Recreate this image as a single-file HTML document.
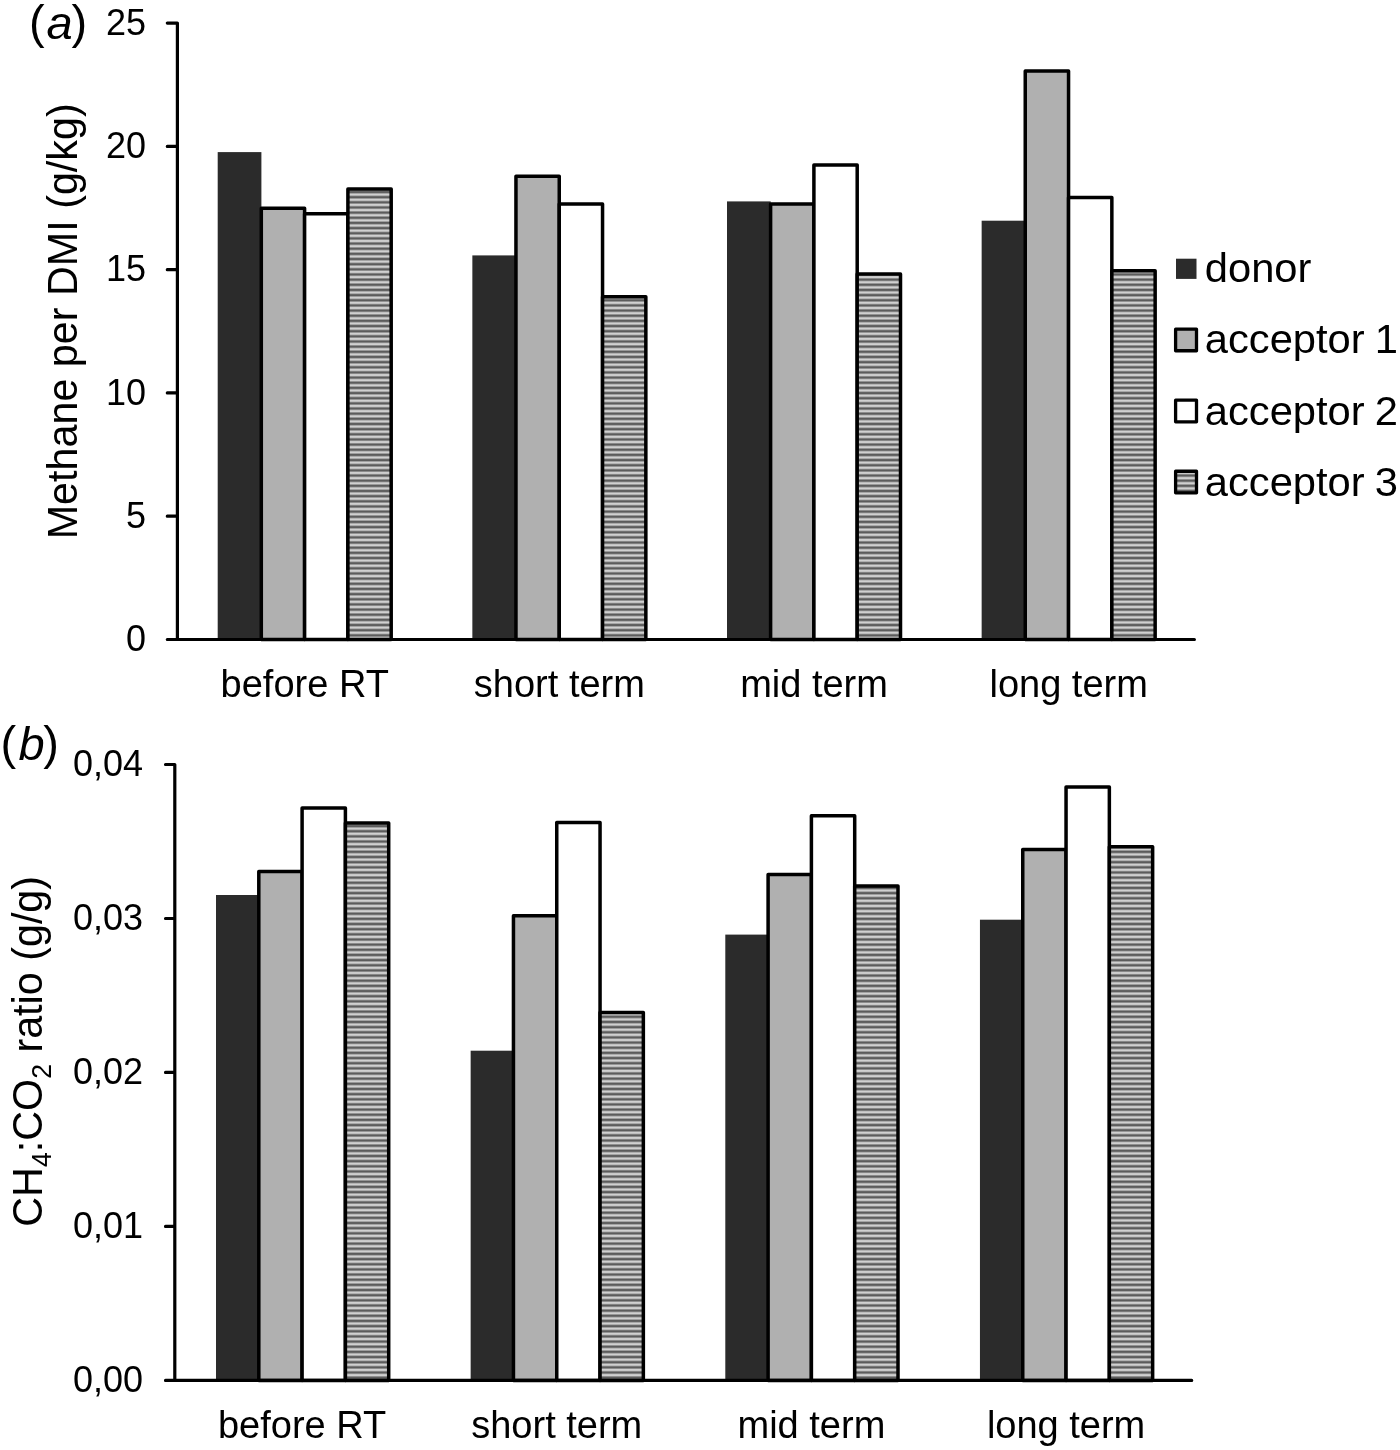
<!DOCTYPE html>
<html lang="en">
<head>
<meta charset="utf-8">
<title>Methane per DMI and CH4:CO2 ratio</title>
<style>
html,body{margin:0;padding:0;background:#fff;}
svg{display:block;}
text{font-family:"Liberation Sans",sans-serif;fill:#000;}
</style>
</head>
<body>
<svg width="1400" height="1450" viewBox="0 0 1400 1450">
<defs>
<linearGradient id="hg" x1="0" y1="0" x2="0" y2="1">
<stop offset="0" stop-color="#5c5c5c"/>
<stop offset="0.14" stop-color="#5c5c5c"/>
<stop offset="0.36" stop-color="#d0d0d0"/>
<stop offset="0.64" stop-color="#d0d0d0"/>
<stop offset="0.86" stop-color="#5c5c5c"/>
<stop offset="1" stop-color="#5c5c5c"/>
</linearGradient>
<pattern id="hatch" patternUnits="userSpaceOnUse" x="0" y="1.27" width="60" height="5.155">
<rect x="0" y="0" width="60" height="5.155" fill="url(#hg)"/>
</pattern>
</defs>
<rect x="0" y="0" width="1400" height="1450" fill="#fff"/>
<!-- panel a -->
<text x="29.1" y="38.4" font-size="47">(<tspan font-style="italic" dx="1.8" dy="0.9">a</tspan><tspan dx="-1.1" dy="-0.9">)</tspan></text>
<text transform="translate(77.1,539.3) scale(1.035,1) rotate(-90)" font-size="41.3">Methane per DMI (g/kg)</text>
<rect x="217.7" y="152.1" width="43.7" height="487.4" fill="#2b2b2b"/>
<rect x="261.3" y="208.2" width="43.3" height="431.3" fill="#b0b0b0" stroke="#000" stroke-width="3.5" stroke-linejoin="round"/>
<rect x="304.6" y="213.7" width="43.3" height="425.8" fill="#ffffff" stroke="#000" stroke-width="3.5" stroke-linejoin="round"/>
<rect x="347.9" y="188.9" width="43.3" height="450.6" fill="url(#hatch)" stroke="#000" stroke-width="3.5" stroke-linejoin="round"/>
<rect x="472.35" y="255.4" width="43.7" height="384.1" fill="#2b2b2b"/>
<rect x="515.95" y="176.2" width="43.3" height="463.3" fill="#b0b0b0" stroke="#000" stroke-width="3.5" stroke-linejoin="round"/>
<rect x="559.25" y="203.9" width="43.3" height="435.6" fill="#ffffff" stroke="#000" stroke-width="3.5" stroke-linejoin="round"/>
<rect x="602.55" y="296.8" width="43.3" height="342.7" fill="url(#hatch)" stroke="#000" stroke-width="3.5" stroke-linejoin="round"/>
<rect x="727" y="201.4" width="43.7" height="438.1" fill="#2b2b2b"/>
<rect x="770.6" y="203.9" width="43.3" height="435.6" fill="#b0b0b0" stroke="#000" stroke-width="3.5" stroke-linejoin="round"/>
<rect x="813.9" y="165" width="43.3" height="474.5" fill="#ffffff" stroke="#000" stroke-width="3.5" stroke-linejoin="round"/>
<rect x="857.2" y="273.9" width="43.3" height="365.6" fill="url(#hatch)" stroke="#000" stroke-width="3.5" stroke-linejoin="round"/>
<rect x="981.65" y="220.7" width="43.7" height="418.8" fill="#2b2b2b"/>
<rect x="1025.25" y="71.1" width="43.3" height="568.4" fill="#b0b0b0" stroke="#000" stroke-width="3.5" stroke-linejoin="round"/>
<rect x="1068.55" y="197.5" width="43.3" height="442" fill="#ffffff" stroke="#000" stroke-width="3.5" stroke-linejoin="round"/>
<rect x="1111.85" y="270.75" width="43.3" height="368.75" fill="url(#hatch)" stroke="#000" stroke-width="3.5" stroke-linejoin="round"/>
<path d="M167.3,23.1H177.4V639.5M167.3,146.38H177.4M167.3,269.66H177.4M167.3,392.94H177.4M167.3,516.22H177.4M167.3,639.5H1194.4" fill="none" stroke="#000" stroke-width="3.2" stroke-linecap="round" stroke-linejoin="round"/>
<text x="146" y="34.7" font-size="36" text-anchor="end">25</text>
<text x="146" y="157.98" font-size="36" text-anchor="end">20</text>
<text x="146" y="281.26" font-size="36" text-anchor="end">15</text>
<text x="146" y="404.54" font-size="36" text-anchor="end">10</text>
<text x="146" y="527.82" font-size="36" text-anchor="end">5</text>
<text x="146" y="651.1" font-size="36" text-anchor="end">0</text>
<text x="304.73" y="697.2" font-size="38" text-anchor="middle">before RT</text>
<text x="559.38" y="697.2" font-size="38" text-anchor="middle">short term</text>
<text x="814.03" y="697.2" font-size="38" text-anchor="middle">mid term</text>
<text x="1068.68" y="697.2" font-size="38" text-anchor="middle">long term</text>
<rect x="1176" y="258.7" width="20.5" height="20.2" fill="#2b2b2b"/>
<text transform="translate(1204.8,282.4) scale(1.027,1)" font-size="40.6">donor</text>
<rect x="1175.6" y="329.15" width="20.9" height="21.6" fill="#b0b0b0" stroke="#000" stroke-width="3.3" stroke-linejoin="round"/>
<text transform="translate(1204.8,353.45) scale(1.027,1)" font-size="40.6">acceptor <tspan dx="-1.6">1</tspan></text>
<rect x="1175.6" y="400.2" width="20.9" height="21.6" fill="#ffffff" stroke="#000" stroke-width="3.3" stroke-linejoin="round"/>
<text transform="translate(1204.8,424.5) scale(1.027,1)" font-size="40.6">acceptor <tspan dx="-1.6">2</tspan></text>
<rect x="1175.6" y="471.25" width="20.9" height="21.6" fill="url(#hatch)" stroke="#000" stroke-width="3.3" stroke-linejoin="round"/>
<text transform="translate(1204.8,495.55) scale(1.027,1)" font-size="40.6">acceptor <tspan dx="-1.6">3</tspan></text>
<!-- panel b -->
<text x="0.6" y="759" font-size="47">(<tspan font-style="italic" dx="2.3" dy="0.9">b</tspan><tspan dx="-1.4" dy="-0.9">)</tspan></text>
<text transform="translate(41.6,1226.7) scale(1.035,1) rotate(-90)" font-size="41.3">CH<tspan font-size="26.6" dy="9.4">4</tspan><tspan dy="-9.4">:CO</tspan><tspan font-size="26.6" dy="9.4">2</tspan><tspan dy="-9.4"> ratio (g/g)</tspan></text>
<rect x="216" y="895" width="42.9" height="485.4" fill="#2b2b2b"/>
<rect x="258.8" y="871.4" width="43.3" height="509" fill="#b0b0b0" stroke="#000" stroke-width="3.5" stroke-linejoin="round"/>
<rect x="302.1" y="807.9" width="43.3" height="572.5" fill="#ffffff" stroke="#000" stroke-width="3.5" stroke-linejoin="round"/>
<rect x="345.4" y="822.9" width="43.3" height="557.5" fill="url(#hatch)" stroke="#000" stroke-width="3.5" stroke-linejoin="round"/>
<rect x="470.65" y="1050.7" width="42.9" height="329.7" fill="#2b2b2b"/>
<rect x="513.45" y="915.7" width="43.3" height="464.7" fill="#b0b0b0" stroke="#000" stroke-width="3.5" stroke-linejoin="round"/>
<rect x="556.75" y="822.5" width="43.3" height="557.9" fill="#ffffff" stroke="#000" stroke-width="3.5" stroke-linejoin="round"/>
<rect x="600.05" y="1012.5" width="43.3" height="367.9" fill="url(#hatch)" stroke="#000" stroke-width="3.5" stroke-linejoin="round"/>
<rect x="725.3" y="934.6" width="42.9" height="445.8" fill="#2b2b2b"/>
<rect x="768.1" y="874.6" width="43.3" height="505.8" fill="#b0b0b0" stroke="#000" stroke-width="3.5" stroke-linejoin="round"/>
<rect x="811.4" y="815.7" width="43.3" height="564.7" fill="#ffffff" stroke="#000" stroke-width="3.5" stroke-linejoin="round"/>
<rect x="854.7" y="886" width="43.3" height="494.4" fill="url(#hatch)" stroke="#000" stroke-width="3.5" stroke-linejoin="round"/>
<rect x="979.95" y="919.7" width="42.9" height="460.7" fill="#2b2b2b"/>
<rect x="1022.75" y="849.4" width="43.3" height="531" fill="#b0b0b0" stroke="#000" stroke-width="3.5" stroke-linejoin="round"/>
<rect x="1066.05" y="787.1" width="43.3" height="593.3" fill="#ffffff" stroke="#000" stroke-width="3.5" stroke-linejoin="round"/>
<rect x="1109.35" y="846.8" width="43.3" height="533.6" fill="url(#hatch)" stroke="#000" stroke-width="3.5" stroke-linejoin="round"/>
<path d="M165.5,764.5H174.8V1380.4M165.5,918.48H174.8M165.5,1072.45H174.8M165.5,1226.43H174.8M165.5,1380.4H1191.7" fill="none" stroke="#000" stroke-width="3.2" stroke-linecap="round" stroke-linejoin="round"/>
<text x="143" y="776.1" font-size="36" text-anchor="end">0,04</text>
<text x="143" y="930.08" font-size="36" text-anchor="end">0,03</text>
<text x="143" y="1084.05" font-size="36" text-anchor="end">0,02</text>
<text x="143" y="1238.03" font-size="36" text-anchor="end">0,01</text>
<text x="143" y="1392" font-size="36" text-anchor="end">0,00</text>
<text x="302.12" y="1437.9" font-size="38" text-anchor="middle">before RT</text>
<text x="556.77" y="1437.9" font-size="38" text-anchor="middle">short term</text>
<text x="811.42" y="1437.9" font-size="38" text-anchor="middle">mid term</text>
<text x="1066.08" y="1437.9" font-size="38" text-anchor="middle">long term</text>
</svg>
</body>
</html>
